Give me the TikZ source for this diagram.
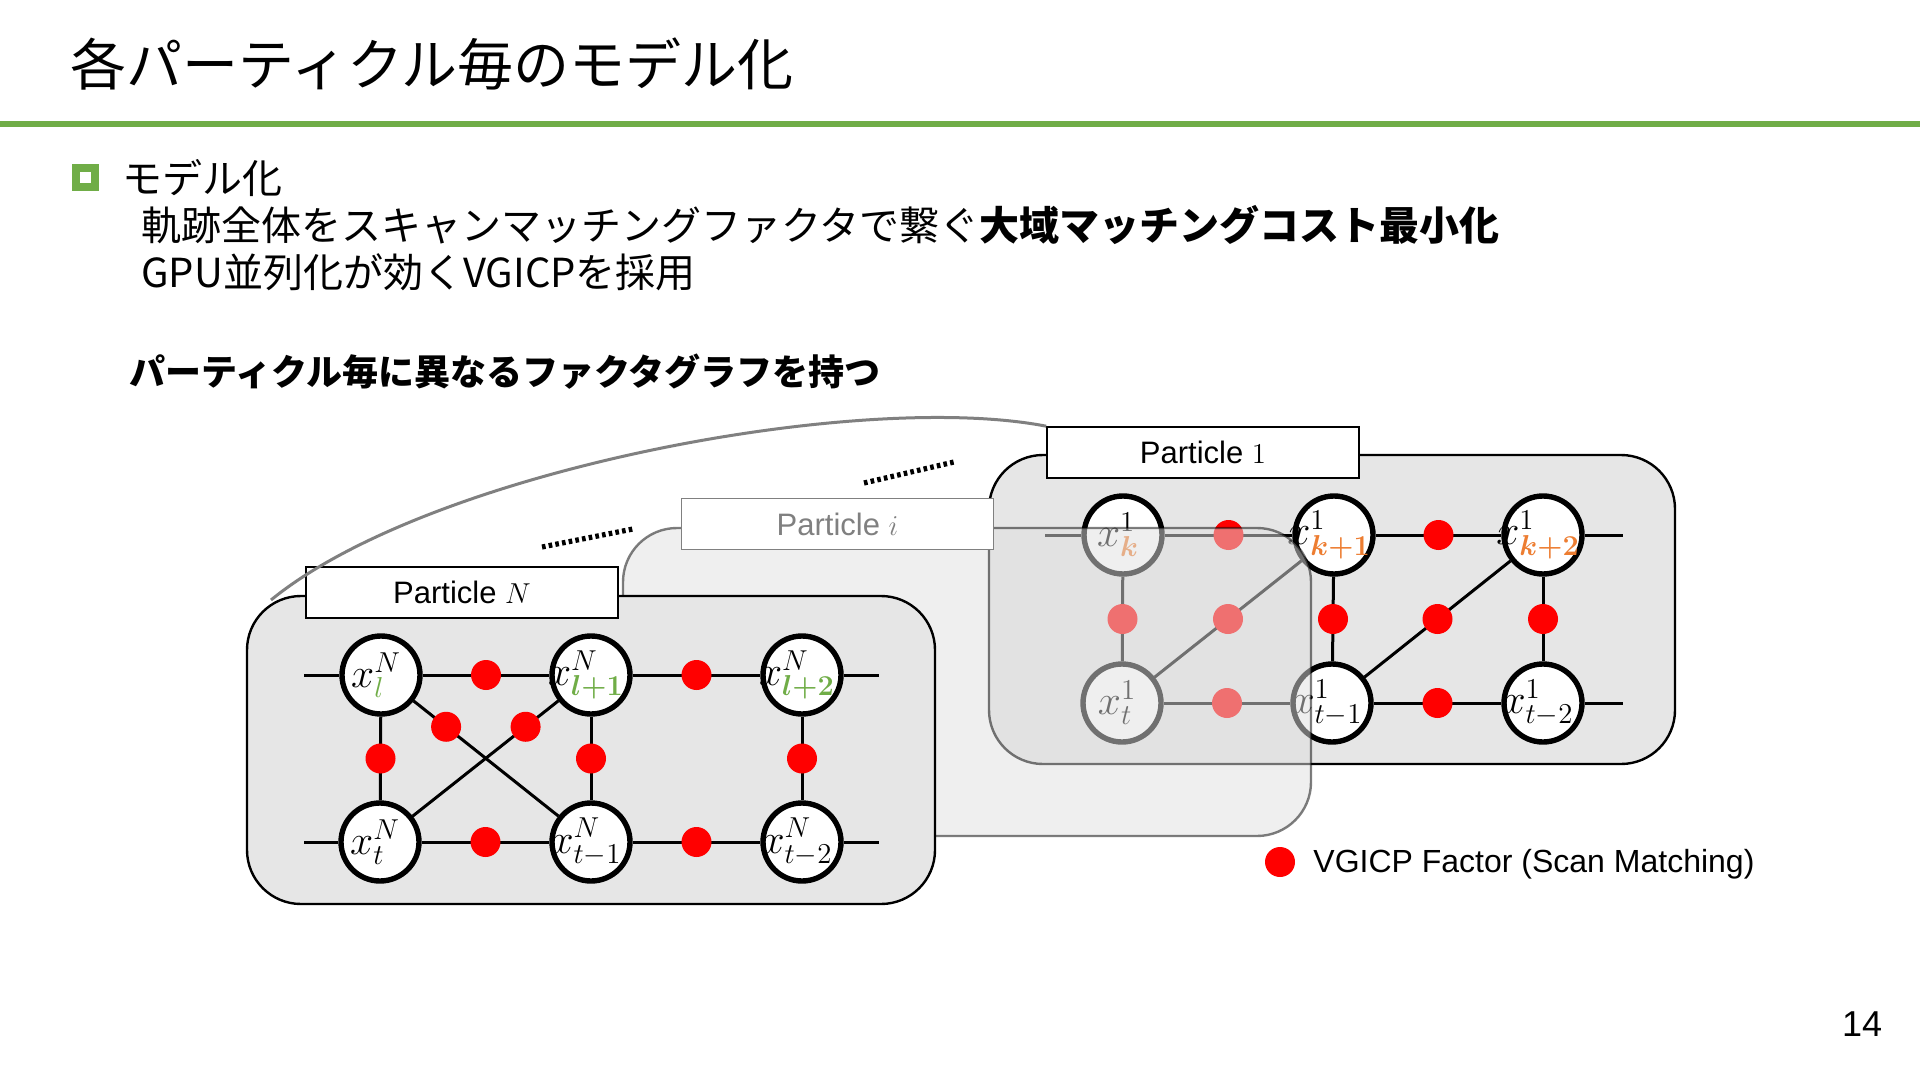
\documentclass[tikz,border=0pt]{standalone}
\usepackage[no-math]{fontspec}
\usepackage{bm}
\setmainfont{Liberation Sans}
\newfontfamily\jp{Noto Sans CJK JP}
\usetikzlibrary{calc}
\DeclareMathSizes{20}{20}{13.5}{10}
\definecolor{lgreen}{HTML}{70AD47}
\definecolor{lorange}{HTML}{ED7D31}
\definecolor{pgray}{HTML}{E6E6E6}
\definecolor{arcgray}{HTML}{808080}
\begin{document}
\begin{tikzpicture}[x=0.5pt,y=-0.5pt,
  every node/.style={inner sep=0pt},
  vtext/.style={font=\fontsize{20}{20}\selectfont, inner sep=0pt, xshift=-2.5pt},
  var/.style={circle, draw=black, line width=2.7pt, fill=white, minimum size=39pt, label={[vtext]center:#1}},
  fac/.style={circle, fill=red, minimum size=15pt},
  edge/.style={line width=1.5pt, draw=black},
  pbox/.style={draw=black, line width=1.2pt, fill=pgray, rounded corners=27pt},
  plabel/.style={draw=black, line width=0.8pt, fill=white, minimum width=156pt, minimum height=25.5pt, font=\fontsize{15.5}{15.5}\selectfont},
  arcline/.style={draw=arcgray, line width=1.5pt},
  dotline/.style={draw=black, line width=2.6pt, dash pattern=on 1.8pt off 1.6pt},
]
\useasboundingbox (0,0) rectangle (1920,1080);
\fill[white] (0,0) rectangle (1920,1080);

% ---------- header ----------
\node[anchor=west, font=\jp\fontsize{28}{28}\selectfont] (title) at (70,64) {各パーティクル毎のモデル化};
\coordinate (gl) at (0,124);
\coordinate (gr) at (1920,124);
\draw[lgreen, line width=3pt] (gl) -- (gr);
\node[draw=lgreen, line width=4pt, minimum size=9.5pt] (bul) at (85.5,177.5) {};
\node[anchor=west, font=\jp\fontsize{20}{20}\selectfont] (h1) at (122,178) {モデル化};
\node[anchor=west, font=\jp\fontsize{20}{20}\selectfont] (h2) at (141,225) {軌跡全体をスキャンマッチングファクタで繋ぐ{\bfseries 大域マッチングコスト最小化}};
\node[anchor=west, font=\jp\fontsize{20}{20}\selectfont] (h3) at (141,272) {GPU並列化が効くVGICPを採用};
\node[anchor=west, font=\jp\bfseries\fontsize{18}{18}\selectfont] (h4) at (129,372) {パーティクル毎に異なるファクタグラフを持つ};

% ---------- Particle 1 (back) ----------
\node[pbox, minimum width=343pt, minimum height=154.5pt] (P1) at (1332,609.5) {};
\node[plabel] (L1) at (1203,452.5) {Particle $1$};
\node[var={$x^{1}_{\textcolor{lorange}{\bm{k}}}$}] (a1) at (1123,535) {};
\node[var={$x^{1}_{\textcolor{lorange}{\bm{k+1}}}$}] (b1) at (1334,535) {};
\node[var={$x^{1}_{\textcolor{lorange}{\bm{k+2}}}$}] (c1) at (1543,535) {};
\node[var={$x^{1}_{t}$}] (d1) at (1122,703) {};
\node[var={$x^{1}_{t-1}$}] (e1) at (1332,703) {};
\node[var={$x^{1}_{t-2}$}] (f1) at (1543,703) {};
\coordinate (r1l) at (1045,535);
\coordinate (r1r) at (1623,535);
\coordinate (s1l) at (1045,703);
\coordinate (s1r) at (1623,703);
\draw[edge] (r1l) -- (a1);
\draw[edge] (a1) -- (b1);
\draw[edge] (b1) -- (c1);
\draw[edge] (c1) -- (r1r);
\draw[edge] (d1) -- (e1);
\draw[edge] (e1) -- (f1);
\draw[edge] (f1) -- (s1r);
\draw[edge] (a1) -- (d1);
\draw[edge] (b1) -- (e1);
\draw[edge] (c1) -- (f1);
\draw[edge] (d1) -- (b1);
\draw[edge] (e1) -- (c1);
\node[fac] (g1) at ($(a1)!0.5!(b1)$) {};
\node[fac] (g2) at ($(b1)!0.5!(c1)$) {};
\node[fac] (g3) at ($(d1)!0.5!(e1)$) {};
\node[fac] (g4) at ($(e1)!0.5!(f1)$) {};
\node[fac] (g5) at ($(a1)!0.5!(d1)$) {};
\node[fac] (g6) at ($(b1)!0.5!(e1)$) {};
\node[fac] (g7) at ($(c1)!0.5!(f1)$) {};
\node[fac] (g8) at ($(d1)!0.5!(b1)$) {};
\node[fac] (g9) at ($(e1)!0.5!(c1)$) {};

% ---------- Particle i (translucent, middle) ----------
\node[draw=black, draw opacity=0.5, fill=black!12, fill opacity=0.5, line width=1.2pt, rounded corners=27pt, minimum width=344pt, minimum height=154pt] (Pi) at (967,682) {};
\node[plabel, draw=black!50, text=black!50] (Li) at (837.5,524) {Particle $i$};

% ---------- Particle N (front) ----------
\node[pbox, minimum width=344pt, minimum height=154pt] (PN) at (591,750) {};
\node[plabel] (LN) at (462,592.5) {Particle $N$};
\node[var={$x^{N}_{\textcolor{lgreen}{l}}$}] (aN) at (381,675) {};
\node[var={$x^{N}_{\textcolor{lgreen}{\bm{l+1}}}$}] (bN) at (591,675) {};
\node[var={$x^{N}_{\textcolor{lgreen}{\bm{l+2}}}$}] (cN) at (802,675) {};
\node[var={$x^{N}_{t}$}] (dN) at (380,842) {};
\node[var={$x^{N}_{t-1}$}] (eN) at (591,842) {};
\node[var={$x^{N}_{t-2}$}] (fN) at (802,842) {};
\coordinate (rNl) at (304,675);
\coordinate (rNr) at (879,675);
\coordinate (sNl) at (304,842);
\coordinate (sNr) at (879,842);
\draw[edge] (rNl) -- (aN);
\draw[edge] (aN) -- (bN);
\draw[edge] (bN) -- (cN);
\draw[edge] (cN) -- (rNr);
\draw[edge] (sNl) -- (dN);
\draw[edge] (dN) -- (eN);
\draw[edge] (eN) -- (fN);
\draw[edge] (fN) -- (sNr);
\draw[edge] (aN) -- (dN);
\draw[edge] (bN) -- (eN);
\draw[edge] (cN) -- (fN);
\draw[edge] (aN) -- (eN);
\draw[edge] (dN) -- (bN);
\node[fac] (h1f) at ($(aN)!0.5!(bN)$) {};
\node[fac] (h2f) at ($(bN)!0.5!(cN)$) {};
\node[fac] (h3f) at ($(dN)!0.5!(eN)$) {};
\node[fac] (h4f) at ($(eN)!0.5!(fN)$) {};
\node[fac] (h5f) at ($(aN)!0.5!(dN)$) {};
\node[fac] (h6f) at ($(bN)!0.5!(eN)$) {};
\node[fac] (h7f) at ($(cN)!0.5!(fN)$) {};
\node[fac] (h8f) at ($(aN)!0.31!(eN)$) {};
\node[fac] (h9f) at ($(dN)!0.69!(bN)$) {};

% ---------- arc and ellipsis ----------
\coordinate (arcS) at (271,600);
\draw[arcline] (arcS) .. controls (430,470) and (860,390) .. (L1.north west);
\coordinate (d1a) at (542,547);
\coordinate (d1b) at (633,529);
\coordinate (d2a) at (864,483);
\coordinate (d2b) at (954,462);
\draw[dotline] (d1a) -- (d1b);
\draw[dotline] (d2a) -- (d2b);

% ---------- legend ----------
\node[fac] (lg) at (1280,862) {};
\node[anchor=west, font=\fontsize{16}{16}\selectfont] (lgt) at (1313,864) {VGICP Factor (Scan Matching)};

% ---------- page number ----------
\node[font=\fontsize{18}{18}\selectfont] (pg) at (1862,1024) {14};
\end{tikzpicture}
\end{document}
